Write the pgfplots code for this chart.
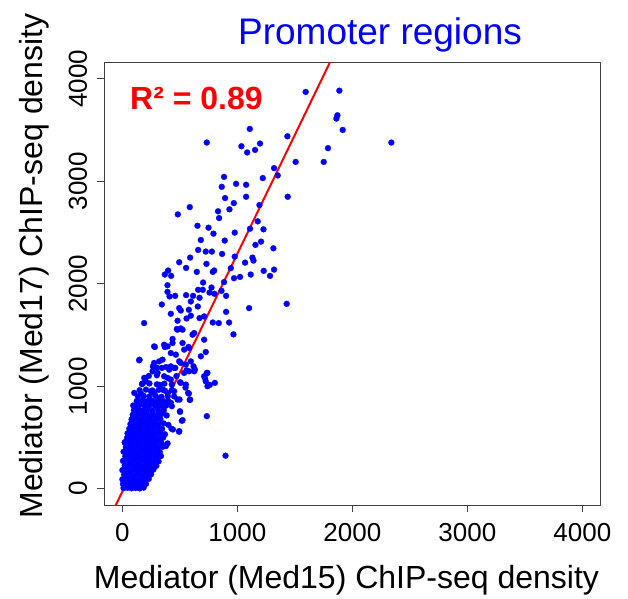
\documentclass[border=0pt]{standalone}
\usepackage{pgfplots}
\pgfplotsset{compat=1.18}
\usepackage{fontspec}
\setmainfont{Liberation Sans}

% Med15 vs Med17 density at promoter regions
\pgfplotstableread{
x y
1594 3871
1887 3883
1870 3643
1861 3611
1916 3500
2339 3377
1108 3510
734 3377
1035 3341
1085 3280
1154 3305
1197 3367
1435 3438
1507 3188
1751 3188
1788 3322
1319 3127
1351 3056
1221 3030
884 3042
864 2945
989 2974
1076 2965
1076 2848
893 2835
969 2786
931 2725
832 2706
841 2640
586 2747
482 2676
1192 2767
1438 2848
1177 2608
1227 2530
1110 2536
653 2565
749 2546
792 2488
977 2498
682 2426
890 2420
1157 2378
1206 2410
1313 2345
659 2329
725 2313
778 2313
589 2254
494 2209
731 2193
867 2290
977 2264
1067 2205
1131 2254
1140 2225
1229 2125
1319 2137
1284 2076
1116 2089
1023 2066
971 2053
943 2151
884 2015
862 1930
902 1881
801 1901
775 1962
786 2115
798 2128
647 2115
554 2154
398 2128
369 2089
424 2076
392 1985
392 1920
410 1875
459 1881
554 1888
595 1826
615 1881
659 1940
702 2011
699 1940
758 1913
671 1862
656 1777
578 1745
494 1761
508 1738
421 1706
343 1797
1102 1761
902 1725
1429 1803
928 1621
838 1615
786 1621
711 1680
671 1664
595 1687
558 1660
480 1638
189 1615
966 1505
711 1453
624 1518
473 1557
508 1563
436 1460
523 1421
575 1382
725 1333
682 1291
282 1382
369 1382
149 1258
265 1193
343 1178
421 1193
494 1242
558 1154
619 1193
630 1161
734 1129
719 1076
804 1032
760 1012
198 1080
175 1025
103 934
161 927
259 940
326 1012
502 1038
549 986
578 927
586 866
497 869
502 749
517 662
493 555
439 577
393 441
734 707
897 321
94 811
22 454
172 42
480 1551
523 1551
610 1502
363 1404
393 1388
436 1421
276 1388
537 1356
580 1372
421 1323
465 1307
146 1252
276 1226
320 1242
349 1258
508 1226
552 1210
595 1242
407 1161
450 1178
262 1145
306 1129
190 1080
204 1047
363 1096
393 1080
421 1064
537 1129
580 1145
624 1145
508 1032
552 1015
711 1096
725 1047
740 999
740 1129
248 950
276 934
349 966
393 934
450 950
572 934
589 869
480 869
421 837
190 853
262 837
320 869
500 755
523 668
427 584
494 561
378 415
10 5
45 8
80 3
115 6
150 2
185 10
5 45
40 50
75 42
110 48
145 44
180 50
205 46
0 90
35 95
70 88
105 92
140 86
175 94
205 90
230 96
15 135
50 140
85 132
120 138
155 130
190 136
225 134
250 140
0 180
35 186
70 178
105 184
140 176
175 182
210 180
245 178
270 186
20 225
55 230
90 222
125 228
160 220
195 226
230 224
265 230
295 222
5 270
40 276
75 268
110 274
145 266
180 272
215 270
250 268
285 274
315 266
25 315
60 320
95 312
130 318
165 310
200 316
235 314
270 320
300 312
335 318
10 360
45 366
80 358
115 364
150 356
185 362
220 360
255 358
290 364
325 356
30 405
65 410
100 402
135 408
170 400
205 406
240 404
275 410
310 402
350 408
20 450
55 456
90 448
125 454
160 446
195 452
230 450
265 448
300 454
340 446
40 495
75 500
110 492
145 498
180 490
215 496
250 494
285 500
320 492
355 498
45 540
80 546
115 538
150 544
185 536
220 542
255 540
290 538
325 544
370 530
60 585
95 590
130 582
165 588
200 580
235 586
270 584
305 590
345 582
70 630
105 636
140 628
175 634
210 626
245 632
280 630
315 628
360 636
400 622
80 675
115 680
150 672
185 678
220 670
255 676
290 674
330 680
90 720
125 726
160 718
195 724
230 716
265 722
300 720
340 728
385 714
100 765
140 770
180 762
220 768
260 760
310 766
360 764
110 810
150 816
195 808
240 814
285 806
330 812
380 810
430 804
125 855
170 860
215 852
260 858
305 850
355 856
400 854
135 900
185 906
235 898
290 904
340 896
395 902
450 900
150 960
205 966
260 958
315 964
370 956
430 962
170 1020
235 1026
300 1018
365 1024
430 1016
230 1100
300 1106
470 1098
300 1180
380 1186
460 1178
}\medpoints

\begin{document}
\begin{tikzpicture}
\useasboundingbox (-104pt,-93pt) rectangle (524pt,505pt);
\begin{axis}[
    at={(0pt,0pt)}, anchor=south west,
    width=496.7pt, height=442.7pt,
    scale only axis,
    xmin=-160, xmax=4160,
    ymin=-160, ymax=4160,
    xtick={0,1000,2000,3000,4000},
    xticklabels={0,1000,2000,3000,4000},
    ytick={0,1000,2000,3000,4000},
    yticklabels={0,1000,2000,3000,4000},
    xtick pos=bottom, ytick pos=left,
    tick align=outside,
    major tick length=7pt,
    axis line style={black!75, line width=0.9pt},
    every tick/.style={black!75, line width=0.9pt},
    ticklabel style={font=\fontsize{26}{26}\selectfont, inner sep=0pt},
    xticklabel style={anchor=base, yshift=-29pt},
    yticklabel style={xshift=-10pt, rotate=90, anchor=base},
]
\addplot[blue, only marks, mark=*, mark size=3pt,
    mark options={draw=blue, fill=blue, line width=0.2pt}] table {\medpoints};
\addplot[red, line width=2pt] coordinates {(-100,-260) (1900,4380)};
\end{axis}
\node[anchor=base, text=blue, inner sep=0pt, font=\fontsize{37}{37}\selectfont]
    at (276pt,460pt) {Promoter regions};
\node[anchor=base west, text=red, inner sep=0pt, font=\fontsize{32}{32}\selectfont\bfseries]
    at (26pt,395pt) {R² = 0.89};
\node[anchor=base, inner sep=0pt, font=\fontsize{32}{32}\selectfont]
    at (242.5pt,-83pt) {Mediator (Med15) ChIP-seq density};
\node[rotate=90, anchor=base, inner sep=0pt, font=\fontsize{32}{32}\selectfont]
    at (-61pt,239pt) {Mediator (Med17) ChIP-seq density};
\end{tikzpicture}
\end{document}
